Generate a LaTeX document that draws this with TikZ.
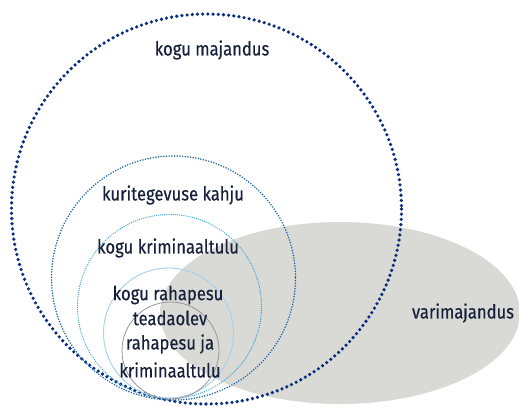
\documentclass[tikz,border=0pt]{standalone}
\usepackage{fontspec}
\setmainfont[FakeStretch=0.86,FakeBold=0.35]{Fira Sans}
\usepackage{tikz}
\usepackage{xcolor}
\usetikzlibrary{positioning}

\definecolor{darkblue}{RGB}{10,45,125}
\definecolor{midblue}{RGB}{28,100,175}
\definecolor{lightblue}{RGB}{50,160,215}
\definecolor{paleblue}{RGB}{165,210,235}
\definecolor{shadegray}{RGB}{217,217,214}
\definecolor{ringgray}{RGB}{150,150,150}
\definecolor{textnavy}{RGB}{22,32,58}

\tikzset{
  label/.style={text=textnavy, font=\fontsize{14.5}{16}\selectfont, inner sep=0.75pt},
  bigdots/.style={color=darkblue, line width=2.7pt, line cap=round, dash pattern=on 0pt off 3.9pt},
  middots/.style={color=midblue, line width=1.3pt, line cap=round, dash pattern=on 0pt off 2pt},
  smalldots/.style={color=lightblue, line width=1pt, line cap=round, dash pattern=on 0pt off 1.6pt}
}

\begin{document}
\begin{tikzpicture}[x=0.75pt,y=0.75pt,yscale=-1,xscale=1]
\useasboundingbox (0,0) rectangle (519,405);

%Shape: Ellipse [varimajandus]
\fill [shadegray] (340,313) ellipse [x radius=180, y radius=91];

%Shape: Circle [kogu majandus]
\draw [bigdots] (206.5,209) circle [radius=195];
%Shape: Circle [kuritegevuse kahju]
\draw [middots] (173.5,278) circle [radius=122];
%Shape: Circle [kogu kriminaaltulu]
\draw [smalldots] (169.5,306.5) circle [radius=92];
%Shape: Circle [kogu rahapesu]
\draw [color=paleblue, line width=0.7pt] (168.5,333) circle [radius=65];
%Shape: Circle [teadaolev]
\draw [color=ringgray, line width=0.6pt] (170.5,350.5) circle [radius=48.5];

% Text Node
\node [label] (majandus) at (212,50) {kogu majandus};
% Text Node
\node [label] (kahju) at (173,195) {kuritegevuse kahju};
% Text Node
\node [label] (kriminaal) at (168,248) {kogu kriminaaltulu};
% Text Node
\node [label] (rahapesu) at (168,295) {kogu rahapesu};
% Text Node
\node [label] (teadaolev) at (170,318) {teadaolev};
% Text Node
\node [label] (rahapesuja) at (170,344) {rahapesu ja};
% Text Node
\node [label] (tulu) at (170,370) {kriminaaltulu};
% Text Node
\node [label] (vari) at (463,313) {varimajandus};

\end{tikzpicture}
\end{document}
